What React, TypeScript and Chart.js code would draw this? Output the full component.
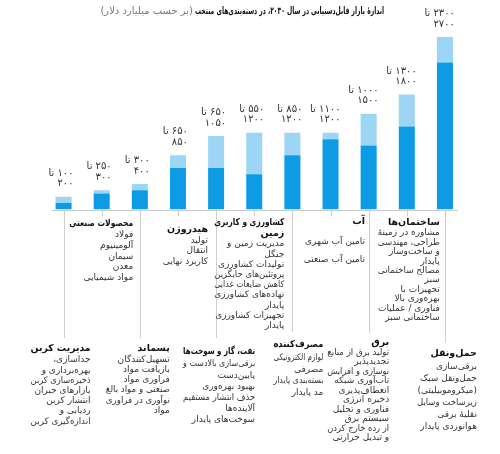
import React, { useEffect, useRef } from "react";
import { Chart, registerables } from "chart.js";

Chart.register(...registerables);

// ---- data ----
const categories = [
  "مدیریت کربن",
  "محصولات صنعتی",
  "پسماند",
  "هیدروژن",
  "نفت، گاز و سوخت‌ها",
  "کشاورزی و کاربری زمین",
  "مصرف‌کننده",
  "آب",
  "برق",
  "ساختمان‌ها",
  "حمل‌ونقل",
];
const lowValues = [100, 250, 300, 650, 650, 550, 850, 1100, 1000, 1300, 2300];
const highValues = [200, 300, 400, 850, 1150, 1200, 1200, 1200, 1500, 1800, 2700];
const rangeFrom = ["۱۰۰", "۲۵۰", "۳۰۰", "۶۵۰", "۶۵۰", "۵۵۰", "۸۵۰", "۱۱۰۰", "۱۰۰۰", "۱۳۰۰", "۲۳۰۰"];
const rangeTo = ["۲۰۰", "۳۰۰", "۴۰۰", "۸۵۰", "۱۰۵۰", "۱۲۰۰", "۱۲۰۰", "۱۲۰۰", "۱۵۰۰", "۱۸۰۰", "۲۷۰۰"];
const titleLines = [
  ["مدیریت کربن"],
  ["محصولات صنعتی"],
  ["پسماند"],
  ["هیدروژن"],
  ["نفت، گاز و سوخت‌ها"],
  ["کشاورزی و کاربری", "زمین"],
  ["مصرف‌کننده"],
  ["آب"],
  ["برق"],
  ["ساختمان‌ها"],
  ["حمل‌ونقل"],
];
const bodyLines = [
  ["جداسازی،", "بهره‌برداری و", "ذخیره‌سازی کربن", "بازارهای جبران", "انتشار کربن", "ردیابی و", "اندازه‌گیری کربن"],
  ["فولاد", "آلومینیوم", "سیمان", "معدن", "مواد شیمیایی"],
  ["تسهیل‌کنندگان", "بازیافت مواد", "فراوری مواد", "صنعتی و مواد بالغ", "نوآوری در فراوری", "مواد"],
  ["تولید", "انتقال", "کاربرد نهایی"],
  ["برقی‌سازی بالادست و", "پایین‌دست", "بهبود بهره‌وری", "حذف انتشار مستقیم", "آلاینده‌ها", "سوخت‌های پایدار"],
  ["مدیریت زمین و", "جنگل", "تولیدات کشاورزی", "پروتئین‌های جایگزین", "کاهش ضایعات غذایی", "نهاده‌های کشاورزی", "پایدار", "تجهیزات کشاورزی", "پایدار"],
  ["لوازم الکترونیکی", "مصرفی", "بسته‌بندی پایدار", "مد پایدار"],
  ["تامین آب شهری", "تامین آب صنعتی"],
  ["تولید برق از منابع", "تجدیدپذیر", "نوسازی و افزایش", "تاب‌آوری شبکه", "انعطاف‌پذیری", "ذخیره انرژی", "فناوری و تحلیل", "سیستم برق", "از رده خارج کردن", "و تبدیل حرارتی"],
  ["مشاوره در زمینهٔ", "طراحی، مهندسی", "و ساخت‌وساز", "پایدار", "مصالح ساختمانی", "سبز", "تجهیزات با", "بهره‌وری بالا", "فناوری / عملیات", "ساختمانی سبز"],
  ["برقی‌سازی", "حمل‌ونقل سبک", "(میکروموبیلیتی)", "زیرساخت وسایل", "نقلیهٔ برقی", "هوانوردی پایدار"],
];
const chartTitle = "اندازهٔ بازار قابل‌دستیابی در سال ۲۰۳۰، در دسته‌بندی‌های منتخب";
const chartUnit = "(بر حسب میلیارد دلار)";

// ---- layout (positions / styles) ----
const DARK = "#0d9be6";
const LIGHT = "#9dd5f5";
const FONT = "'DejaVu Sans', sans-serif";
const blockLayout = [
  { lower: true, dx: 27, titleY: 349, bodyY: 360, gap: 10.2, w: 60, lineEnd: 338 },
  { lower: false, dx: 31.5, titleY: 224, bodyY: 235, gap: 10.7, w: 64 },
  { lower: true, dx: 30, titleY: 349, bodyY: 359.5, gap: 10.2, w: 64, lineEnd: 338 },
  { lower: false, dx: 30, titleY: 230, bodyY: 240.5, gap: 10.5, w: 46 },
  { lower: true, dx: 39, titleY: 352, bodyY: 364, gap: 11.2, w: 72, lineEnd: 338 },
  { lower: false, dx: 30, titleY: 223, bodyY: 244, gap: 10.2, w: 70 },
  { lower: true, dx: 31, titleY: 345, bodyY: 358, gap: 11.4, w: 50, lineEnd: 332 },
  { lower: false, dx: 34.5, titleY: 222, bodyY: 242, gap: 18, w: 70 },
  { lower: true, dx: 20.5, titleY: 343, bodyY: 352.5, gap: 9.5, w: 62, lineEnd: 333 },
  { lower: false, dx: 33, titleY: 223, bodyY: 233, gap: 9.4, w: 62 },
  { lower: true, dx: 32, titleY: 354, bodyY: 367, gap: 12, w: 60, lineEnd: 343 },
];

const overlay = {
  id: "overlay",
  afterDraw(chart: any) {
    const ctx = chart.ctx as CanvasRenderingContext2D;
    const xs = chart.scales.x;
    const ys = chart.scales.y;
    const area = chart.chartArea;
    const base = ys.getPixelForValue(0);
    ctx.save();
    ctx.direction = "rtl";
    ctx.textBaseline = "middle";

    // title
    ctx.textAlign = "right";
    ctx.fillStyle = "#111";
    ctx.font = `bold 10px ${FONT}`;
    ctx.fillText(chartTitle, 384, 11, 189);
    ctx.fillStyle = "#777";
    ctx.font = `10px ${FONT}`;
    ctx.fillText(chartUnit, 193, 11, 128);

    // axis line
    ctx.strokeStyle = "#c9c9c9";
    ctx.lineWidth = 1;
    ctx.beginPath();
    ctx.moveTo(area.left + 7.5, Math.round(base) + 0.5);
    ctx.lineTo(area.right - 6, Math.round(base) + 0.5);
    ctx.stroke();

    const meta = chart.getDatasetMeta(1);
    for (let i = 0; i < categories.length; i++) {
      const cx = xs.getPixelForValue(i);
      const bar = meta.data[i] as any;
      const half = bar.width / 2;
      const top = ys.getPixelForValue(highValues[i]);

      // range label
      ctx.fillStyle = "#333";
      ctx.font = `10px ${FONT}`;
      ctx.textAlign = "right";
      ctx.fillText(rangeFrom[i] + " تا", cx + half + 2, top - 23.5);
      ctx.fillText(rangeTo[i], cx + half + 2, top - 13);

      const L = blockLayout[i];
      const lx = Math.round(cx) + 0.5;
      ctx.strokeStyle = "#cfcfcf";
      ctx.beginPath();
      if (L.lower) {
        ctx.moveTo(lx, base + 1);
        ctx.lineTo(lx, L.lineEnd as number);
      } else {
        ctx.moveTo(lx, base + 1);
        ctx.lineTo(lx, base + 7);
      }
      ctx.stroke();

      const rx = cx + L.dx;
      ctx.fillStyle = "#111";
      ctx.font = `bold 9.5px ${FONT}`;
      titleLines[i].forEach((t, k) => {
        ctx.fillText(t, rx, L.titleY + k * 10.5, L.w);
      });
      ctx.fillStyle = "#333";
      ctx.font = `9px ${FONT}`;
      bodyLines[i].forEach((t, k) => {
        ctx.fillText(t, rx, L.bodyY + k * L.gap, L.w);
      });
    }
    ctx.restore();
  },
};

export default function App() {
  const ref = useRef<HTMLCanvasElement | null>(null);
  useEffect(() => {
    if (!ref.current) return;
    const extra = highValues.map((h, i) => h - lowValues[i]);
    const chart = new Chart(ref.current, {
      type: "bar",
      data: {
        labels: categories,
        datasets: [
          { data: lowValues, backgroundColor: DARK, barPercentage: 0.42, categoryPercentage: 1 },
          { data: extra, backgroundColor: LIGHT, barPercentage: 0.42, categoryPercentage: 1 },
        ],
      },
      options: {
        responsive: false,
        animation: false,
        devicePixelRatio: 1,
        layout: { padding: { left: 44.5, right: 36, top: 37, bottom: 244.5 } },
        scales: {
          x: { display: false, stacked: true },
          y: { display: false, stacked: true, min: 0, max: 2700 },
        },
        plugins: { legend: { display: false }, tooltip: { enabled: false } },
      },
      plugins: [overlay],
    });
    return () => chart.destroy();
  }, []);
  return (
    <div style={{ position: "absolute", left: 0, top: 0, width: 500, height: 454, background: "#fff" }}>
      <canvas ref={ref} width={500} height={454} style={{ display: "block", width: 500, height: 454 }} />
    </div>
  );
}
